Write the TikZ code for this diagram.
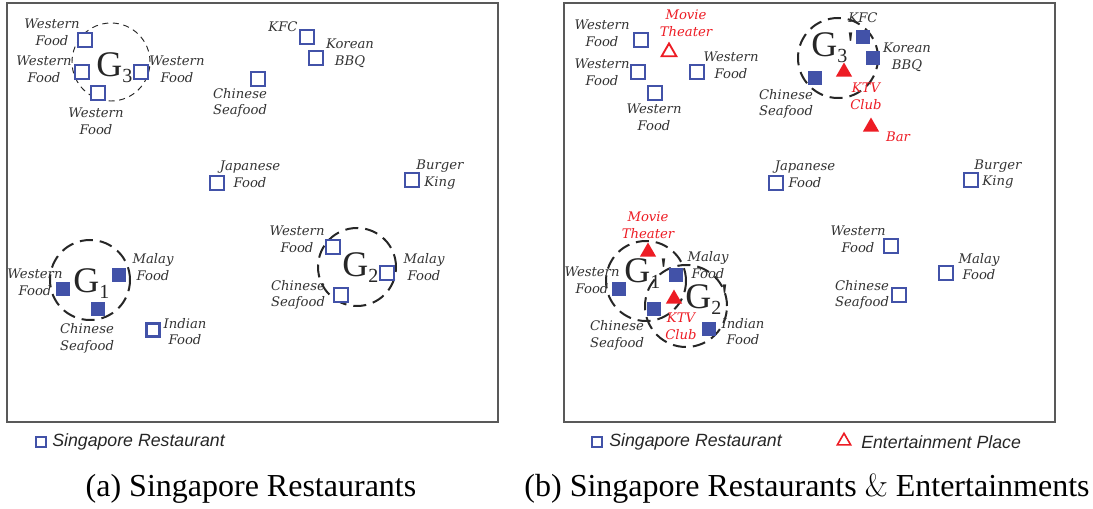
\documentclass[tikz,border=0pt]{standalone}
\usepackage{fontspec}
\setmainfont{Liberation Serif}
\newfontfamily\labelfont{DejaVu Serif}
\newfontfamily\legendfont{Liberation Sans}
\newfontfamily\ampfont{Latin Modern Roman}
\usetikzlibrary{shapes.geometric}

\definecolor{restblue}{RGB}{66,82,168}
\definecolor{entred}{RGB}{237,28,36}
\definecolor{txtgray}{RGB}{51,51,51}

\begin{document}
\begin{tikzpicture}[x=0.75pt,y=-0.75pt,
  rest/.style={draw=restblue,line width=1.5pt,fill=white,minimum size=9.8pt,inner sep=0pt},
  restin/.style={fill=restblue,minimum size=10.8pt,inner sep=0pt},
  ent/.style={regular polygon,regular polygon sides=3,fill=entred,minimum size=14.2pt,inner sep=0pt},
  entout/.style={ent,fill=white,draw=entred,line width=1.4pt,minimum size=12.8pt},
  lbl/.style={font=\labelfont\itshape\fontsize{9.9}{12.5}\selectfont,text=txtgray,align=center,inner sep=0pt},
  entlbl/.style={lbl,text=entred},
  grp/.style={circle,draw=black!85,line width=1.5pt,dash pattern=on 9.75pt off 5.25pt,inner sep=0pt},
  grpthin/.style={grp,line width=0.7pt,dash pattern=on 4.5pt off 3.5pt},
  gname/.style={font=\fontsize{27}{27}\selectfont,text=black!85,inner sep=0pt,anchor=base west},
  legtxt/.style={font=\legendfont\itshape\fontsize{13.3}{14}\selectfont,text=black!85,inner sep=0pt,anchor=west},
  captxt/.style={font=\fontsize{24}{24}\selectfont,inner sep=0pt,anchor=base},
  frame/.style={draw=black!65,line width=1.1pt}]
\useasboundingbox (0,0) rectangle (1093,509);

% frames
\draw[frame] (7,3) rectangle (498,422);
\draw[frame] (564,3) rectangle (1055,422);

% ---------------- (a) ----------------
\node[grpthin,minimum size=58.5pt] (g3) at (111,62) {};
\node[grp,minimum size=60pt] (g1) at (90,280) {};
\node[grp,minimum size=58.5pt] (g2) at (357,267) {};

\foreach \n/\x/\y in {aw1/85/40, aw2/82/72, aw3/141/72, aw4/98/93, acs1/258/79,
    akfc/307/37, akbq/316/58, ajf/217/183, abk/412/180,
    aw6/333/247, amf2/387/273, acs3/341/295}
  \node[rest] (\n) at (\x,\y) {};
\node[rest,line width=2.3pt,minimum size=9.4pt] (aif) at (153,330) {};
\foreach \n/\x/\y in {aw5/63/289, amf1/119/275, acs2/98/309}
  \node[restin] (\n) at (\x,\y) {};

\node[lbl] (aw1l) at (52,32.5) {Western\\Food};
\node[lbl] (aw2l) at (44,69.5) {Western\\Food};
\node[lbl] (aw3l) at (177,69.5) {Western\\Food};
\node[lbl] (aw4l) at (96,121) {Western\\Food};
\node[lbl] (acs1l) at (240,103) {Chinese\\Seafood};
\node[lbl] (akfcl) at (283,27) {KFC};
\node[lbl] (akbql) at (350,53) {Korean\\BBQ};
\node[lbl] (ajfl) at (250,174) {Japanese\\Food};
\node[lbl] (abkl) at (440,174.5) {Burger\\King};
\node[lbl] (aw5l) at (35,282) {Western\\Food};
\node[lbl] (amf1l) at (153,267) {Malay\\Food};
\node[lbl] (acs2l) at (87,338.5) {Chinese\\Seafood};
\node[lbl] (aifl) at (185,331.5) {Indian\\Food};
\node[lbl] (aw6l) at (297,239) {Western\\Food};
\node[lbl] (amf2l) at (424,267) {Malay\\Food};
\node[lbl] (acs3l) at (298,295) {Chinese\\Seafood};

\node[gname] (g3n) at (96,77) {G\raisebox{-4.5pt}{\fontsize{15}{15}\selectfont 3}};
\node[gname] (g1n) at (73,293) {G\raisebox{-4.5pt}{\fontsize{15}{15}\selectfont 1}};
\node[gname] (g2n) at (342,277) {G\raisebox{-4.5pt}{\fontsize{15}{15}\selectfont 2}};

% ---------------- (b) ----------------
\node[grp,minimum size=60pt] (h3) at (838,58) {};
\node[grp,minimum size=60pt] (h1) at (646,281) {};
\node[grp,minimum size=61.5pt] (h2) at (686,306) {};

\foreach \n/\x/\y in {bw1/641/40, bw2/638/72, bw3/697/72, bw4/655/93,
    bjf/776/183, bbk/971/180, bw6/891/246, bmf2/946/273, bcs3/899/295}
  \node[rest] (\n) at (\x,\y) {};
\foreach \n/\x/\y in {bcs1/815/78, bkfc/863/37, bkbq/873/58,
    bw5/619/289, bmf1/676/275, bcs2/654/309, bif/709/329}
  \node[restin] (\n) at (\x,\y) {};
\node[entout] (bmt1) at (669,52) {};
\foreach \n/\x/\y in {bktv1/844/72, bbar/871/127, bmt2/648/252, bktv2/674/299}
  \node[ent] (\n) at (\x,\y) {};

\node[lbl] (bw1l) at (602,33.5) {Western\\Food};
\node[lbl] (bw2l) at (602,72.5) {Western\\Food};
\node[lbl] (bw3l) at (731,65) {Western\\Food};
\node[lbl] (bw4l) at (654,117.5) {Western\\Food};
\node[lbl] (bcs1l) at (786,104) {Chinese\\Seafood};
\node[lbl] (bkfcl) at (863,18) {KFC};
\node[lbl] (bkbql) at (907,57.5) {Korean\\BBQ};
\node[lbl] (bjfl) at (805,174.5) {Japanese\\Food};
\node[lbl] (bbkl) at (998,174) {Burger\\King};
\node[lbl] (bw5l) at (592,280.5) {Western\\Food};
\node[lbl] (bmf1l) at (708,265) {Malay\\Food};
\node[lbl] (bcs2l) at (617,335.5) {Chinese\\Seafood};
\node[lbl] (bifl) at (743,331.5) {Indian\\Food};
\node[lbl] (bw6l) at (858,239) {Western\\Food};
\node[lbl] (bmf2l) at (979,266.5) {Malay\\Food};
\node[lbl] (bcs3l) at (862,295) {Chinese\\Seafood};
\node[entlbl] (bmt1l) at (686,23) {Movie\\Theater};
\node[entlbl] (bktv1l) at (866,96.5) {KTV\\Club};
\node[entlbl] (bbarl) at (898,137) {Bar};
\node[entlbl] (bmt2l) at (648,225.5) {Movie\\Theater};
\node[entlbl] (bktv2l) at (681,326) {KTV\\Club};

\node[gname] (h3n) at (811,57) {G\raisebox{-4.5pt}{\fontsize{15}{15}\selectfont 3}\textquotesingle};
\node[gname] (h1n) at (624,283) {G\raisebox{-4.5pt}{\fontsize{15}{15}\selectfont 1}\textquotesingle};
\node[gname] (h2n) at (685,309) {G\raisebox{-4pt}{\fontsize{15}{15}\selectfont 2}\textquotesingle};

% legends
\node[rest,minimum size=8pt,line width=1.3pt] (lega) at (41,442) {};
\node[legtxt] (legat) at (52,442) {Singapore Restaurant};
\node[rest,minimum size=8pt,line width=1.3pt] (legb) at (597,442) {};
\node[legtxt] (legbt) at (609,442) {Singapore Restaurant};
\node[entout,minimum size=11.5pt,line width=1.2pt] (lege) at (844,441) {};
\node[legtxt] (leget) at (861,442) {Entertainment Place};

% captions
\node[captxt] (capa) at (251,497) {(a) Singapore Restaurants};
\node[captxt] (capb) at (807,497) {(b) Singapore Restaurants {\ampfont\&} Entertainments};
\end{tikzpicture}
\end{document}
